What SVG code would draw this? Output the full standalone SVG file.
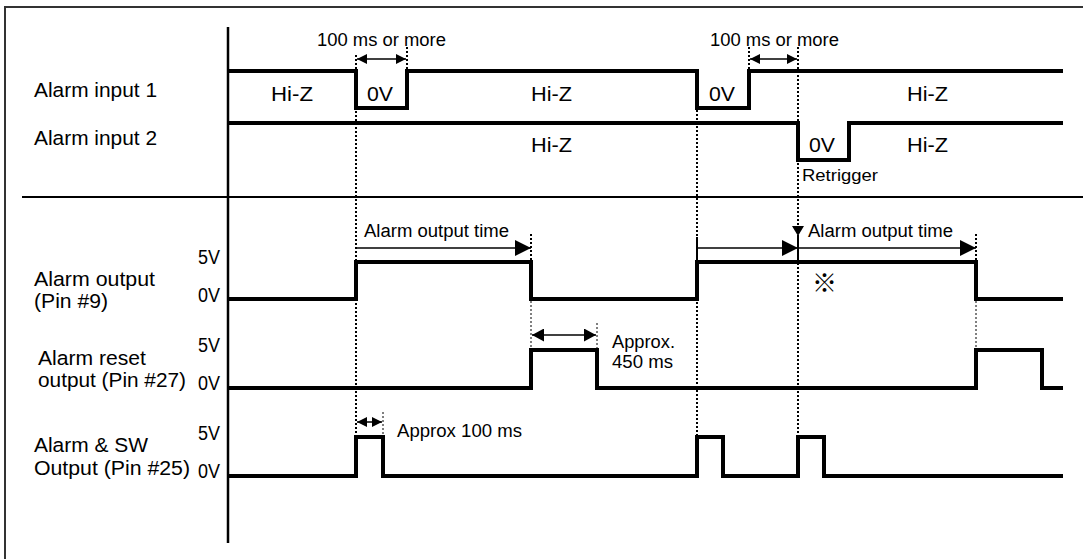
<svg xmlns="http://www.w3.org/2000/svg" width="1089" height="559" viewBox="0 0 1089 559">
<defs>
<style>
.bg{fill:#fff}
.frame{stroke:#333;stroke-width:2;fill:none}
.axis{stroke:#000;stroke-width:2.5;fill:none}
.sep{stroke:#000;stroke-width:2;fill:none}
.sig{stroke:#000;stroke-width:4;fill:none;stroke-linejoin:miter;stroke-linecap:butt}
.dot{stroke:#000;stroke-width:2;stroke-dasharray:2 2;fill:none}
.dott{stroke:#000;stroke-width:1;stroke-dasharray:2 2;fill:none}
.arr{stroke:#000;stroke-width:1.5;fill:none}
.tick{stroke:#000;stroke-width:2;fill:none}
text{font-family:"Liberation Sans",Arial,sans-serif;fill:#000}
.lb{font-size:20.5px}
.sm{font-size:18px}
</style>
<marker id="ah-s" markerUnits="userSpaceOnUse" markerWidth="10" markerHeight="10" refX="10" refY="5" orient="auto-start-reverse" viewBox="0 0 10 10"><path d="M0,0 L10,5 L0,10 z" fill="#000"/></marker>
<marker id="ah-m" markerUnits="userSpaceOnUse" markerWidth="12" markerHeight="13" refX="12" refY="6.5" orient="auto-start-reverse" viewBox="0 0 12 13"><path d="M0,0 L12,6.5 L0,13 z" fill="#000"/></marker>
<marker id="ah-l" markerUnits="userSpaceOnUse" markerWidth="16" markerHeight="16" refX="16" refY="8" orient="auto-start-reverse" viewBox="0 0 16 16"><path d="M0,0 L16,8 L0,16 z" fill="#000"/></marker>
</defs>
<rect class="bg" x="0" y="0" width="1089" height="559"/>
<g id="frame">
<path class="frame" d="M5,559 V7 H1083"/>
<line class="axis" x1="228" y1="27" x2="228" y2="543"/>
<line class="sep" x1="22" y1="197" x2="1083" y2="197"/>
</g>

<g id="alarm-input-1">
<text class="lb" x="34" y="97" textLength="123" lengthAdjust="spacingAndGlyphs">Alarm input 1</text>
<path class="sig" d="M228,71 H356 V108 H407 V71 H697 V108 H749 V71 H1063"/>
<text class="lb" x="271" y="101" textLength="42" lengthAdjust="spacingAndGlyphs">Hi-Z</text>
<text class="lb" x="367" y="101" textLength="26" lengthAdjust="spacingAndGlyphs">0V</text>
<text class="lb" x="531" y="101" textLength="41" lengthAdjust="spacingAndGlyphs">Hi-Z</text>
<text class="lb" x="709" y="101" textLength="26" lengthAdjust="spacingAndGlyphs">0V</text>
<text class="lb" x="907" y="101" textLength="41" lengthAdjust="spacingAndGlyphs">Hi-Z</text>
</g>

<g id="alarm-input-2">
<text class="lb" x="34" y="145" textLength="123" lengthAdjust="spacingAndGlyphs">Alarm input 2</text>
<path class="sig" d="M228,123 H798 V160 H849 V123 H1063"/>
<text class="lb" x="531" y="152" textLength="41" lengthAdjust="spacingAndGlyphs">Hi-Z</text>
<text class="lb" x="809" y="152" textLength="26" lengthAdjust="spacingAndGlyphs">0V</text>
<text class="lb" x="907" y="152" textLength="41" lengthAdjust="spacingAndGlyphs">Hi-Z</text>
<text x="802" y="181" font-size="16.5" textLength="76" lengthAdjust="spacingAndGlyphs">Retrigger</text>
</g>

<g id="alarm-output">
<text class="lb" x="34" y="286" textLength="121" lengthAdjust="spacingAndGlyphs">Alarm output</text>
<text class="lb" x="34" y="308" textLength="74" lengthAdjust="spacingAndGlyphs">(Pin #9)</text>
<text class="lb" x="198" y="264" textLength="22" lengthAdjust="spacingAndGlyphs">5V</text>
<text class="lb" x="198" y="302" textLength="22" lengthAdjust="spacingAndGlyphs">0V</text>
<path class="sig" d="M228,299 H356 V262 H531 V299 H697 V262 H976 V299 H1063"/>
<text x="824.5" y="292" font-size="25" text-anchor="middle" style="font-family:'Noto Sans CJK JP','DejaVu Sans',sans-serif">※</text>
</g>

<g id="alarm-reset-output">
<text class="lb" x="38" y="365" textLength="108" lengthAdjust="spacingAndGlyphs">Alarm reset</text>
<text class="lb" x="38" y="387" textLength="148" lengthAdjust="spacingAndGlyphs">output (Pin #27)</text>
<text class="lb" x="198" y="352" textLength="22" lengthAdjust="spacingAndGlyphs">5V</text>
<text class="lb" x="198" y="390" textLength="22" lengthAdjust="spacingAndGlyphs">0V</text>
<path class="sig" d="M228,388 H531 V350 H597 V388 H976 V350 H1042 V388 H1063"/>
<text x="612" y="348" font-size="18.5" textLength="63" lengthAdjust="spacingAndGlyphs">Approx.</text>
<text x="612" y="368" font-size="18.5" textLength="61" lengthAdjust="spacingAndGlyphs">450 ms</text>
</g>

<g id="alarm-sw-output">
<text class="lb" x="34" y="452" textLength="114" lengthAdjust="spacingAndGlyphs">Alarm &amp; SW</text>
<text class="lb" x="34" y="475" textLength="156" lengthAdjust="spacingAndGlyphs">Output (Pin #25)</text>
<text class="lb" x="198" y="440" textLength="22" lengthAdjust="spacingAndGlyphs">5V</text>
<text class="lb" x="198" y="478" textLength="22" lengthAdjust="spacingAndGlyphs">0V</text>
<path class="sig" d="M228,476 H356 V437 H383 V476 H697 V437 H723 V476 H798 V437 H824 V476 H1063"/>
<text class="sm" x="397" y="437" textLength="125" lengthAdjust="spacingAndGlyphs">Approx 100 ms</text>
</g>

<g id="connectors">
<line class="dot" x1="356" y1="55" x2="356" y2="437"/>
<line class="dot" x1="407" y1="47" x2="407" y2="70"/>
<line class="dot" x1="697" y1="110" x2="697" y2="437"/>
<line class="dot" x1="749" y1="47" x2="749" y2="70"/>
<line class="dot" x1="798" y1="47" x2="798" y2="437"/>
<line class="dot" x1="531" y1="234" x2="531" y2="261"/>
<line class="dott" x1="531" y1="301" x2="531" y2="349"/>
<line class="dott" x1="597" y1="323" x2="597" y2="349"/>
<line class="dot" x1="976" y1="234" x2="976" y2="261"/>
<line class="dott" x1="976" y1="301" x2="976" y2="349"/>
<line class="dott" x1="383" y1="412" x2="383" y2="436"/>

<line class="arr" x1="357" y1="59" x2="406" y2="59" marker-start="url(#ah-s)" marker-end="url(#ah-s)"/>
<line class="arr" x1="750" y1="59" x2="797" y2="59" marker-start="url(#ah-s)" marker-end="url(#ah-s)"/>
<line class="arr" x1="357" y1="422" x2="382" y2="422" marker-start="url(#ah-s)" marker-end="url(#ah-s)"/>
<line class="arr" x1="532" y1="335" x2="596" y2="335" marker-start="url(#ah-m)" marker-end="url(#ah-m)"/>

<line class="arr" x1="356" y1="248" x2="531" y2="248" marker-end="url(#ah-l)"/>
<line class="tick" x1="697" y1="237" x2="697" y2="262"/>
<line class="arr" x1="697" y1="248" x2="798" y2="248" marker-end="url(#ah-l)"/>
<line class="arr" x1="798" y1="248" x2="976" y2="248" marker-end="url(#ah-l)"/>
<polygon points="792,226 804,226 798,236" fill="#000"/>
<line class="tick" x1="798" y1="235" x2="798" y2="262"/>
</g>
<text class="sm" x="317" y="46" textLength="129" lengthAdjust="spacingAndGlyphs">100 ms or more</text>
<text class="sm" x="710" y="46" textLength="129" lengthAdjust="spacingAndGlyphs">100 ms or more</text>
<text class="sm" x="364" y="237" textLength="145" lengthAdjust="spacingAndGlyphs">Alarm output time</text>
<text class="sm" x="808" y="237" textLength="145" lengthAdjust="spacingAndGlyphs">Alarm output time</text>
</svg>
